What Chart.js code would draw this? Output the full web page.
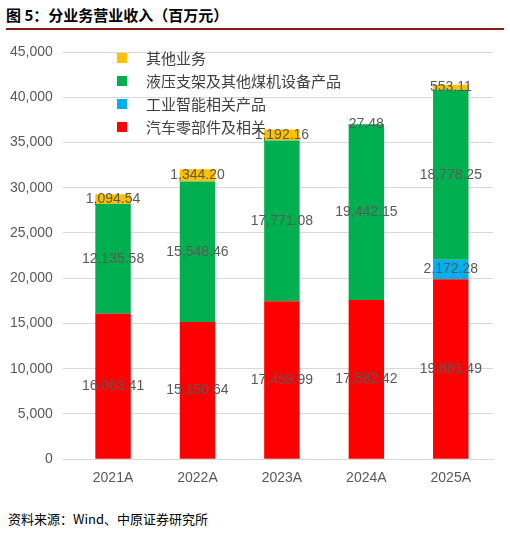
<!DOCTYPE html><html><head><meta charset="utf-8"><script src="https://cdn.jsdelivr.net/npm/chart.js@4"></script>
<style>body{margin:0;background:#fff;font-family:"Noto Sans CJK SC";}
#t{position:absolute;left:6px;top:4px;font-size:15px;font-weight:bold;color:#000;width:498px;border-bottom:2px solid #8b1a1a;padding-bottom:3px}
#s{position:absolute;left:8px;top:509px;font-size:13px;color:#000}
#c{position:absolute;left:0;top:32px}</style></head><body>
<div id="t">图 5：分业务营业收入（百万元）</div>
<div id="c" style="width:505px;height:458px"><canvas id="cv"></canvas></div>
<div id="s">资料来源：Wind、中原证券研究所</div>
<script>
const categories=["2021A","2022A","2023A","2024A","2025A"];
const auto=[16063.41,15150.64,17459.99,17582.42,19881.49];
const smart=[null,null,null,null,2172.28];
const support=[12135.58,15548.46,17771.08,19442.15,18778.25];
const other=[1094.54,1344.20,1192.16,27.48,553.11];
const yTicks=[0,5000,10000,15000,20000,25000,30000,35000,40000,45000];
const fmt=v=>v.toLocaleString('en-US',{minimumFractionDigits:2,maximumFractionDigits:2});
const lbl={id:'lbl',afterDatasetsDraw(ch){const x=ch.ctx;x.save();x.font='14px "Liberation Sans"';x.fillStyle='#595959';x.textAlign='center';x.textBaseline='middle';
ch.data.datasets.forEach((d,i)=>{ch.getDatasetMeta(i).data.forEach((b,j)=>{const v=d.data[j];if(v==null)return;const p=b.getProps(['x','y','base'],true);x.fillText(fmt(v),p.x,(p.y+p.base)/2);});});x.restore();}};
const legend={id:'lg',afterDraw(ch){const x=ch.ctx;const ds=ch.data.datasets.slice().reverse();x.save();x.font='15px "Noto Sans CJK SC"';x.textBaseline='middle';
ds.forEach((d,i)=>{const yy=ch.chartArea.top+6+i*23;x.fillStyle=d.backgroundColor;x.fillRect(117,yy-5,10,10);x.fillStyle='#404040';x.fillText(d.label,146,yy);});x.restore();}};
new Chart(document.getElementById('cv'),{type:'bar',plugins:[lbl,legend],data:{labels:categories,datasets:[
{label:'汽车零部件及相关',data:auto,backgroundColor:'#ff0000'},
{label:'工业智能相关产品',data:smart,backgroundColor:'#00b0f0'},
{label:'液压支架及其他煤机设备产品',data:support,backgroundColor:'#00b050'},
{label:'其他业务',data:other,backgroundColor:'#ffc000'}]},
options:{responsive:true,maintainAspectRatio:false,animation:false,layout:{padding:{top:20,right:12,bottom:0,left:0}},
datasets:{bar:{categoryPercentage:1,barPercentage:0.42}},
plugins:{legend:{display:false},tooltip:{enabled:false}},
scales:{x:{stacked:true,grid:{display:false},border:{color:'#d9d9d9'},ticks:{color:'#595959',font:{size:14,family:'Liberation Sans'}}},
y:{stacked:true,min:0,max:45000,afterBuildTicks:a=>{a.ticks=yTicks.map(v=>({value:v}))},grid:{color:'#d9d9d9'},border:{display:false},ticks:{color:'#595959',font:{size:14,family:'Liberation Sans'},callback:v=>v.toLocaleString('en-US'),padding:10}}}}});
</script></body></html>
